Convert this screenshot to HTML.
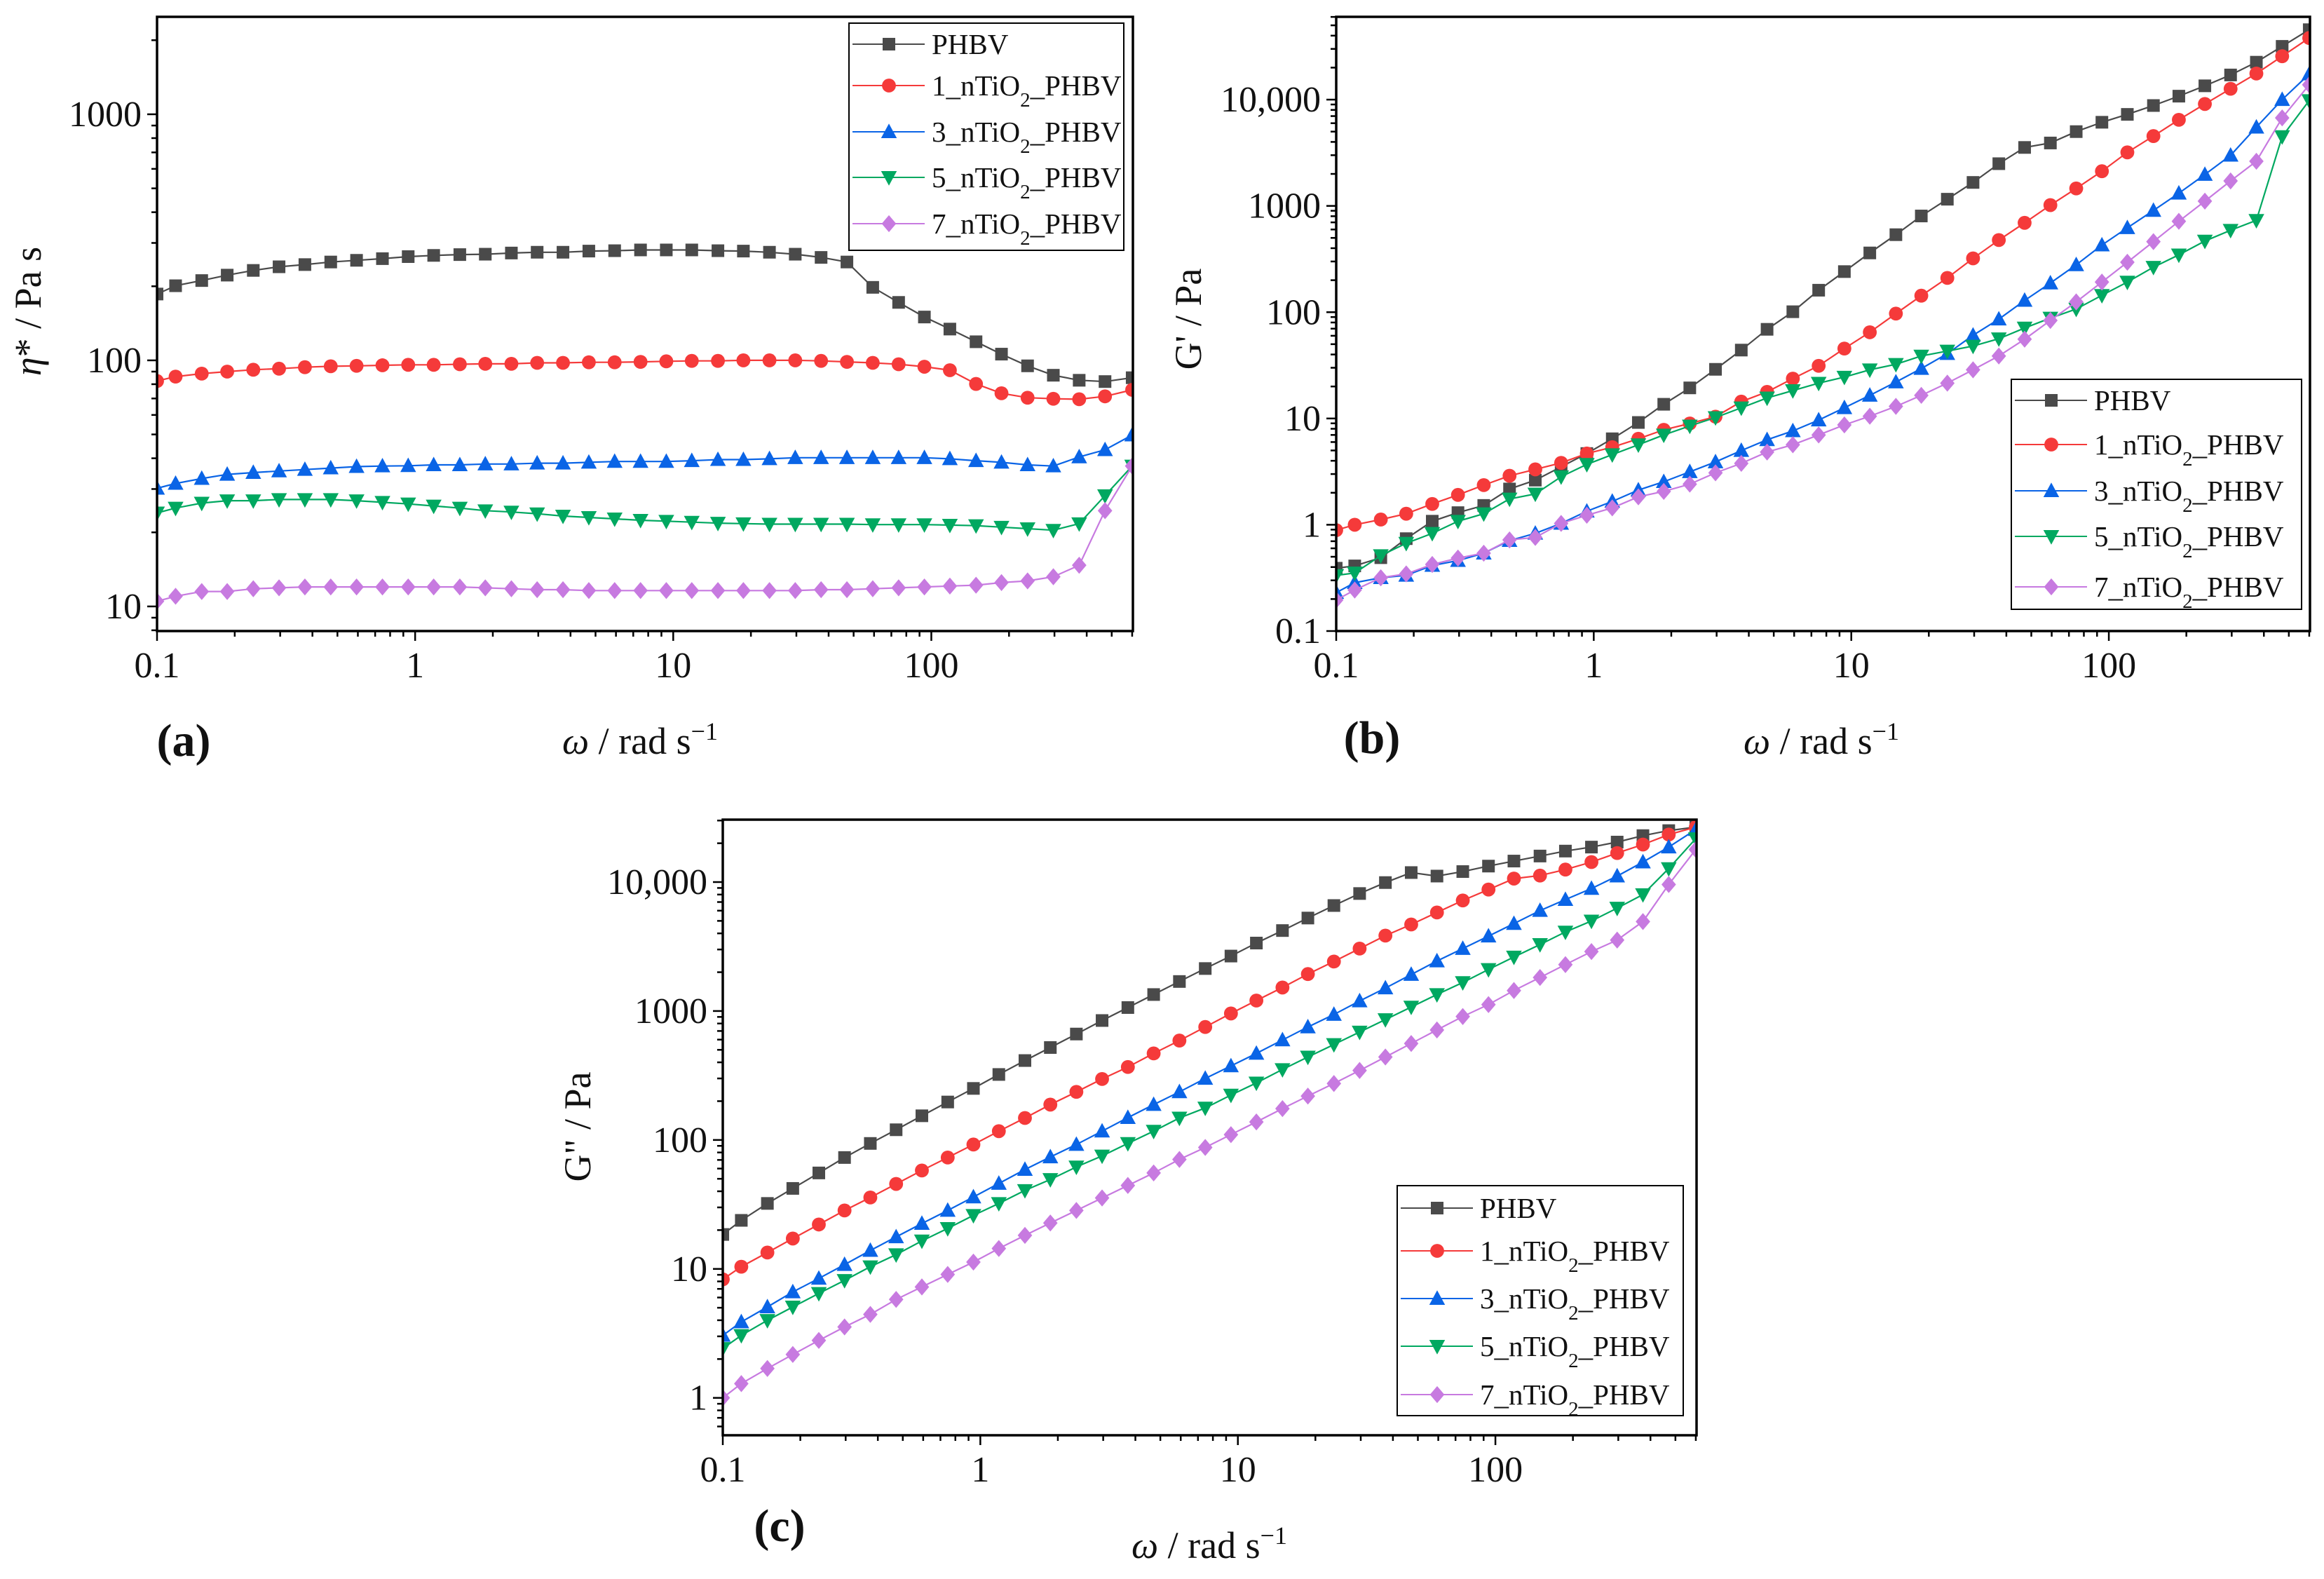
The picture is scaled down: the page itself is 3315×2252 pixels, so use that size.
<!DOCTYPE html>
<html><head><meta charset="utf-8"><style>
html,body{margin:0;padding:0;background:#fff}
svg{display:block}
text{font-family:"Liberation Serif",serif;fill:#111}
</style></head><body>
<svg id="fig" xmlns="http://www.w3.org/2000/svg" width="3315" height="2252" viewBox="0 0 3315 2252"></svg>
<script>
const omega=[0.1,0.118,0.149,0.187,0.236,0.297,0.374,0.471,0.593,0.747,0.94,1.18,1.49,1.87,2.36,2.97,3.74,4.71,5.93,7.47,9.4,11.8,14.9,18.7,23.6,29.7,37.4,47.1,59.3,74.7,94,118,149,187,236,297,374,471,600];
const seriesNames=["PHBV","1_nTiO2_PHBV","3_nTiO2_PHBV","5_nTiO2_PHBV","7_nTiO2_PHBV"];
// panel a: complex viscosity
const etaPHBV=[186,201,211,222,232,240,245,251,255,259,264,267,269,270,273,275,275,278,279,281,281,281,279,278,275,270,262,251,198,172,150,134,119,106,95,87,83,82,85];
const eta1=[82.4,85.9,88.3,90,91.6,92.5,93.8,94.6,95,95.5,95.9,95.9,96.4,96.8,96.8,97.7,97.7,98.2,98.2,98.6,99.1,99.5,99.5,100,100,100,99.5,98.6,97.7,96.4,94.2,91.2,80.2,73.5,70.5,69.8,69.5,71.4,75.9];
const eta3=[30.2,31.6,33.1,34.4,35,35.5,36,36.5,37,37.2,37.3,37.6,37.6,37.9,37.9,38.2,38.2,38.5,38.8,38.8,38.8,39.1,39.5,39.5,39.8,40.2,40.2,40.2,40.2,40.2,40.2,39.8,39.1,38.5,37.6,37.2,40.5,43.3,49.7];
const eta5=[24,25.1,26.3,26.9,26.9,27.2,27.2,27.2,26.9,26.5,26.1,25.6,25.1,24.5,24.2,23.8,23.3,23,22.7,22.4,22.2,22,21.8,21.7,21.6,21.6,21.6,21.6,21.5,21.5,21.5,21.4,21.3,21,20.7,20.4,21.7,28.2,37.2];
const eta7=[10.5,11,11.5,11.5,11.8,11.9,12,12,12,12,12,12,12,11.9,11.8,11.7,11.7,11.6,11.6,11.6,11.6,11.6,11.6,11.6,11.6,11.6,11.7,11.7,11.8,11.9,12,12.1,12.2,12.5,12.7,13.2,14.7,24.5,37.2];
// panel b: storage modulus
const gpPHBV=[0.39,0.41,0.49,0.74,1.08,1.3,1.52,2.17,2.63,3.51,4.68,6.44,9.17,13.6,19.4,29,44,69,101,161,241,361,536,804,1156,1663,2496,3548,3908,5000,6124,7262,8800,10780,13490,17060,22500,31700,45500];
const gp1=[0.89,1.0,1.12,1.27,1.57,1.91,2.36,2.89,3.32,3.82,4.68,5.37,6.44,7.82,8.97,10.4,14.4,17.8,23.7,31.3,45.5,64.7,97,143,210,321,477,693,1017,1460,2120,3190,4540,6460,9100,12650,17600,25600,38000];
const gp3=[0.23,0.285,0.317,0.334,0.414,0.46,0.54,0.71,0.83,1.03,1.34,1.66,2.12,2.54,3.15,3.9,4.99,6.3,7.64,9.66,12.6,16.5,22,29.5,40.7,60.6,86,129,188,279,428,622,905,1316,1974,2992,5500,10000,17400];
const gp5=[0.334,0.352,0.513,0.67,0.83,1.08,1.27,1.75,1.95,2.83,3.7,4.57,5.66,7.0,8.5,10.2,12.6,15.6,18.3,21.5,24.5,28.7,32.3,38.7,43.1,48,56.3,71,88,107,144,192,265,346,467,590,731,4490,9800];
const gp7=[0.196,0.243,0.317,0.345,0.423,0.486,0.54,0.72,0.76,1.03,1.23,1.44,1.83,2.06,2.41,3.08,3.78,4.83,5.66,7.0,8.7,10.5,13,16.5,21.5,28.7,38.7,55.7,83.6,125,192,295,461,716,1109,1718,2630,6730,13800];
// panel c: loss modulus
const gppPHBV=[18.5,23.8,32.2,42.1,55.5,73.1,94,120,154,197,251,322,413,521,663,844,1064,1342,1694,2135,2668,3365,4207,5260,6577,8150,9910,11850,11130,12060,13300,14550,15920,17390,18670,20420,22920,25060,26680];
const gpp1=[8.3,10.4,13.4,17.2,22.1,28.4,35.8,45.6,58,73.1,92.2,117,148,188,236,297,368,469,590,752,957,1206,1521,1935,2420,3050,3845,4690,5810,7200,8750,10640,11230,12500,14290,16790,19540,23350,26680];
const gpp3=[3.05,3.88,5.07,6.63,8.44,10.8,13.9,17.7,22.5,28.4,36.1,46,59,73.8,92.2,117,149,188,236,300,375,469,596,752,940,1197,1507,1919,2443,3050,3810,4760,6010,7310,8910,11130,14290,18670,25500];
const gpp5=[2.42,3.05,3.99,5.07,6.46,8.15,10.4,12.9,16.5,20.6,26,32.2,40.6,49.4,61.8,75.2,94,117,148,177,223,277,352,440,550,687,859,1074,1342,1663,2100,2624,3280,4100,4990,6280,8000,12730,21700];
const gpp7=[1.0,1.29,1.69,2.17,2.79,3.55,4.44,5.8,7.25,9.06,11.3,14.4,18.2,22.7,28.4,35.5,44.4,55.5,70.6,87.5,110,138,175,219,274,346,440,560,713,906,1122,1442,1820,2290,2890,3550,4940,9570,17870];
const xTickLabels=["0.1","1","10","100"];
const yTickA=["10","100","1000"];
const yTickB=["0.1","1","10","100","1000","10,000"];
const yTickC=["1","10","100","1000","10,000"];

const NS="http://www.w3.org/2000/svg";
const svg=document.getElementById('fig');
const colors=["#4a4a4a","#f53a3a","#0a64e6","#00a860","#c77ae0"];
const shapes=["square","circle","up","down","diamond"];
function el(tag,attrs,parent){const e=document.createElementNS(NS,tag);for(const k in attrs)e.setAttribute(k,attrs[k]);(parent||svg).appendChild(e);return e;}
function marker(g,shape,x,y,c,s){
  let m;
  if(shape==="square")m=el('rect',{x:x-s,y:y-s,width:2*s,height:2*s,fill:c},g);
  else if(shape==="circle")m=el('circle',{cx:x,cy:y,r:s*1.1,fill:c},g);
  else if(shape==="up")m=el('polygon',{points:`${x},${y-s*1.3} ${x+s*1.25},${y+s} ${x-s*1.25},${y+s}`,fill:c},g);
  else if(shape==="down")m=el('polygon',{points:`${x},${y+s*1.3} ${x+s*1.25},${y-s} ${x-s*1.25},${y-s}`,fill:c},g);
  else m=el('polygon',{points:`${x},${y-s*1.35} ${x+s*1.15},${y} ${x},${y+s*1.35} ${x-s*1.15},${y}`,fill:c},g);
  return m;
}
function panel(cfg){
  const g=el('g',{});
  
  
  const lx0=-1,lx1=Math.log10(604);
  const X=v=>cfg.x0+(Math.log10(v)-lx0)/(lx1-lx0)*(cfg.x1-cfg.x0);
  const Y=v=>cfg.y1-(Math.log10(v)-cfg.ly0)/(cfg.ly1-cfg.ly0)*(cfg.y1-cfg.y0);
  const clip='clip'+cfg.id;
  const cp=el('clipPath',{id:clip},g);el('rect',{x:cfg.x0,y:cfg.y0,width:cfg.x1-cfg.x0,height:cfg.y1-cfg.y0},cp);
  cfg.data.forEach((arr,si)=>{
    const sg=el('g',{'clip-path':`url(#${clip})`},g);
    
    
    const pts=arr.map((v,i)=>X(omega[i]).toFixed(1)+','+Y(v).toFixed(1)).join(' ');
    el('polyline',{points:pts,fill:'none',stroke:colors[si],'stroke-width':2.2},sg);
    arr.forEach((v,i)=>{const m=marker(sg,shapes[si],X(omega[i]),Y(v),colors[si],9);
      
      });
  });
  const fr=el('rect',{x:cfg.x0,y:cfg.y0,width:cfg.x1-cfg.x0,height:cfg.y1-cfg.y0,fill:'none',stroke:'#000','stroke-width':3.5},g);
  
  
  for(let d=-1;d<=2;d++){for(let k=1;k<=9;k++){const v=k*Math.pow(10,d);const x=X(v);if(x>cfg.x1+0.5)continue;
    el('line',{x1:x,x2:x,y1:cfg.y1,y2:cfg.y1+(k===1?14:8),stroke:'#000','stroke-width':2.5},g);}}
  xTickLabels.forEach((t,i)=>{const tx=el('text',{x:X(Math.pow(10,i-1)),y:cfg.y1+66,'font-size':52,'text-anchor':'middle'},g);tx.textContent=t;
    });
  for(let d=Math.floor(cfg.ly0);d<=Math.ceil(cfg.ly1);d++){for(let k=1;k<=9;k++){const v=k*Math.pow(10,d);const lv=Math.log10(v);if(lv<cfg.ly0||lv>cfg.ly1)continue;const y=Y(v);
    el('line',{x1:cfg.x0,x2:cfg.x0-(k===1?14:8),y1:y,y2:y,stroke:'#000','stroke-width':2.5},g);}}
  cfg.yTicks.forEach((t,i)=>{const v=Math.pow(10,cfg.firstDec+i);const tx=el('text',{x:cfg.x0-22,y:Y(v)+17,'font-size':52,'text-anchor':'end'},g);tx.textContent=t;
    });
  const xt=el('text',{x:cfg.xtx,y:cfg.xty,'font-size':54,'text-anchor':'middle'},g);
  xt.innerHTML='<tspan font-style="italic">ω</tspan> / rad s<tspan baseline-shift="super" font-size="36">−1</tspan>';
  
  const yt=el('text',{x:0,y:0,'font-size':54,'text-anchor':'middle',transform:`translate(${cfg.ytx},${cfg.yty}) rotate(-90)`},g);
  yt.innerHTML=cfg.ytitle;
  
  const pl=el('text',{x:cfg.plx,y:cfg.ply,'font-size':66,'font-weight':'bold','text-anchor':'middle'},g);
  pl.textContent=cfg.label;
  
  const L=cfg.leg;
  const lg=el('g',{},g);
  
  el('rect',{x:L.x,y:L.y,width:L.w,height:L.h,fill:'#fff',stroke:'#000','stroke-width':2},lg);
  L.rows.forEach((ry,si)=>{
    const eg=el('g',{},lg);
    
    el('line',{x1:L.x+5,x2:L.x+108,y1:ry,y2:ry,stroke:colors[si],'stroke-width':2},eg);
    marker(eg,shapes[si],L.x+57,ry,colors[si],9);
    const t=el('text',{x:L.x+118,y:ry+14,'font-size':41},eg);
    t.innerHTML=si===0?'PHBV':seriesNames[si].replace('O2','O<tspan baseline-shift="sub" font-size="29">2</tspan>');
  });
}
panel({id:'a',name:'panel-a-complex-viscosity',x0:224,x1:1616,y0:24,y1:900,ly0:0.9,ly1:3.396,firstDec:1,yTicks:yTickA,
  data:[etaPHBV,eta1,eta3,eta5,eta7],xtx:913,xty:1075,ytx:58,yty:444,ytitle:'<tspan font-style="italic">η</tspan>* / Pa s',
  plx:262,ply:1078,label:'(a)',leg:{x:1211,y:33,w:392,h:324,rows:[63,122,188,253,319]}});
panel({id:'b',name:'panel-b-storage-modulus',x0:1906,x1:3295,y0:24,y1:900,ly0:-1,ly1:4.779,firstDec:-1,yTicks:yTickB,
  data:[gpPHBV,gp1,gp3,gp5,gp7],xtx:2598,xty:1075,ytx:1713,yty:455,ytitle:"G' / Pa",
  plx:1957,ply:1074,label:'(b)',leg:{x:2869,y:541,w:414,h:328,rows:[571,634,700,765,837]}});
panel({id:'c',name:'panel-c-loss-modulus',x0:1031,x1:2420,y0:1169,y1:2047,ly0:-0.29,ly1:4.484,firstDec:0,yTicks:yTickC,
  data:[gppPHBV,gpp1,gpp3,gpp5,gpp7],xtx:1725,xty:2222,ytx:842,yty:1607,ytitle:'G" / Pa',
  plx:1112,ply:2198,label:'(c)',leg:{x:1993,y:1691,w:408,h:328,rows:[1723,1784,1852,1920,1989]}});
</script>
</body></html>
